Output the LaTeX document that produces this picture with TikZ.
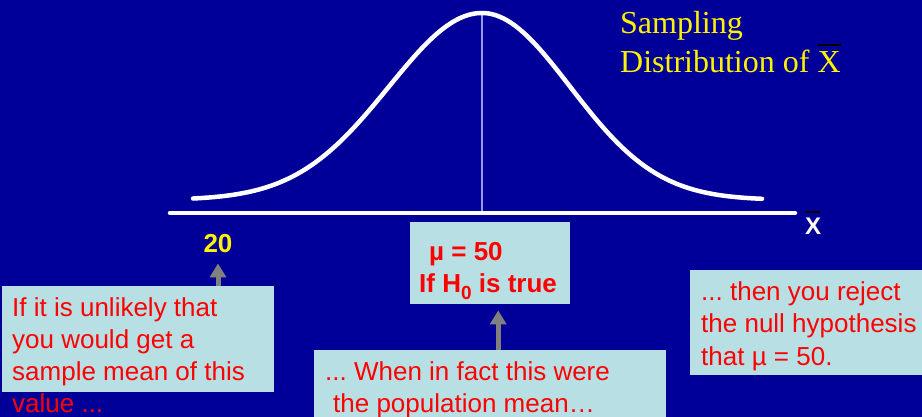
\documentclass[tikz,border=0pt]{standalone}
\usepackage{fontspec}
\setmainfont{Liberation Sans}
\newfontfamily\serifx{Liberation Serif}
\usetikzlibrary{arrows.meta}
\definecolor{bgblue}{RGB}{0,0,153}
\definecolor{boxcyan}{RGB}{184,224,228}
\definecolor{arrgray}{RGB}{128,128,128}
\definecolor{peakline}{RGB}{150,150,235}
\frenchspacing
\begin{document}
\begin{tikzpicture}[x=1pt,y=-1pt,
  redtxt/.style={text=red, font=\fontsize{26}{32}\selectfont, anchor=base west, inner sep=0pt},
  redbold/.style={text=red, font=\bfseries\fontsize{26}{32}\selectfont, anchor=base west, inner sep=0pt},
  titletxt/.style={text=yellow, font=\serifx\fontsize{32}{39}\selectfont, anchor=base west, inner sep=0pt},
  infobox/.style={fill=boxcyan, draw=none, inner sep=0pt, anchor=north west},
  grayarrow/.style={draw=arrgray, line width=5pt, -{Triangle[width=16pt,length=14pt]}},
  curveline/.style={draw=white, line width=4.5pt, line cap=round, line join=round}]
\useasboundingbox (0,0) rectangle (922,417);
\fill[bgblue] (0,0) rectangle (922,417);
% title
\node[titletxt] (title1) at (620,34) {Sampling};
\node[titletxt] (title2) at (620,73) {Distribution of \rlap{\textcolor{black}{\rule[27pt]{23pt}{2pt}}}X};
% peak line
\coordinate (peak) at (482,13);
\coordinate (foot) at (482,213);
\draw[peakline, line width=1.5pt] (peak) -- (foot);
% curve
\draw[curveline] plot[domain=193:482,samples=90] (\x,{200-187*exp(-0.5*((\x-482)/93)^2)})
  -- plot[domain=482:762,samples=90] (\x,{200-187*exp(-0.5*((\x-482)/88)^2)});
% axis
\coordinate (axl) at (170,213);
\coordinate (axr) at (795,213);
\draw[white, line width=4.5pt, line cap=round] (axl) -- (axr);
\node[text=white, font=\bfseries\fontsize{24}{28}\selectfont, anchor=base west, inner sep=0pt] (xbar) at (805,235)
  {\rlap{\textcolor{black}{\rule[22pt]{15pt}{2pt}}}X};
% 20
\node[text=yellow, font=\bfseries\fontsize{26}{30}\selectfont, anchor=base, inner sep=0pt] (twenty) at (218,253) {20};
% left box
\node[infobox, minimum width=272pt, minimum height=106pt] (lbox) at (2,286) {};
\node[redtxt] (ltext1) at (12,316) {If it is unlikely that};
\node[redtxt] (ltext2) at (12,348) {you would get a};
\node[redtxt] (ltext3) at (12,380) {sample mean of this};
\node[redtxt] (ltext4) at (12,412) {value ...};
\draw[grayarrow, shorten >=10pt] (lbox.north -| twenty) -- (twenty.south);
% middle box
\node[infobox, minimum width=160pt, minimum height=82pt] (mbox) at (410,222) {};
\node[redbold] (mu) at (429,260) {µ = 50};
\node[redbold] (hzero) at (419,292) {If H\raisebox{-7pt}{\fontsize{19}{19}\selectfont 0} is true};
% bottom box
\node[infobox, minimum width=352pt, minimum height=80pt] (bbox) at (314,350) {};
\node[redtxt] (btext1) at (325,380) {... When in fact this were};
\node[redtxt] (btext2) at (333,412) {the population mean…};
\coordinate (mtip) at ([xshift=8pt,yshift=-6pt]mbox.south);
\draw[grayarrow] (bbox.north -| mtip) -- (mtip);
% right box
\node[infobox, minimum width=240pt, minimum height=105pt] (rbox) at (690,270) {};
\node[redtxt] (rtext1) at (701,300) {... then you reject};
\node[redtxt] (rtext2) at (701,332) {the null hypothesis};
\node[redtxt] (rtext3) at (701,365) {that µ = 50.};
\end{tikzpicture}
\end{document}
